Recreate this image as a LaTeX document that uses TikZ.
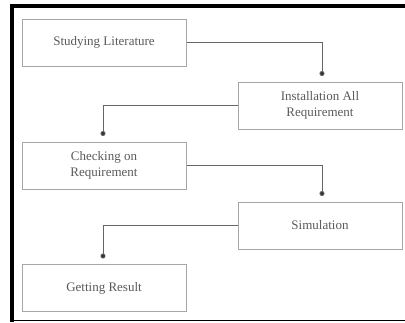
\documentclass[tikz,border=0pt]{standalone}
\usepackage{fontspec}
\setmainfont{Liberation Serif}
\usetikzlibrary{arrows.meta}
\definecolor{boxline}{gray}{0.65}
\definecolor{txt}{gray}{0.35}
\definecolor{conn}{gray}{0.4}
\begin{document}
\begin{tikzpicture}[x=1pt,y=-1pt,
  stepbox/.style={draw=boxline,line width=1pt,minimum width=164pt,minimum height=47pt,
    text=txt,font=\fontsize{13}{16}\selectfont,align=center,inner sep=0pt},
  conn/.style={draw=conn,line width=0.8pt,-{Circle[length=5pt,fill=black!80]},shorten >=5.5pt}]
\useasboundingbox (0,0) rectangle (405,322);
\draw[line width=4pt] (12,322) -- (12,5.5) -- (405,5.5);
\draw[line width=1.2pt] (12,320.5) -- (405,320.5);
\node[stepbox] (a) at (104,42.5) {Studying Literature};
\node[stepbox] (b) at (320,105.5) {Installation All\\Requirement};
\node[stepbox] (c) at (104,165.5) {Checking on\\Requirement};
\node[stepbox] (d) at (320,225.5) {Simulation};
\node[stepbox] (e) at (104,288) {Getting Result};
\coordinate (ab) at (322,0);
\coordinate (bc) at (103,0);
\draw[conn] (a.east) -| (ab |- b.north);
\draw[conn] (b.west) -| (bc |- c.north);
\draw[conn] (c.east) -| (ab |- d.north);
\draw[conn] (d.west) -| (bc |- e.north);
\end{tikzpicture}
\end{document}
